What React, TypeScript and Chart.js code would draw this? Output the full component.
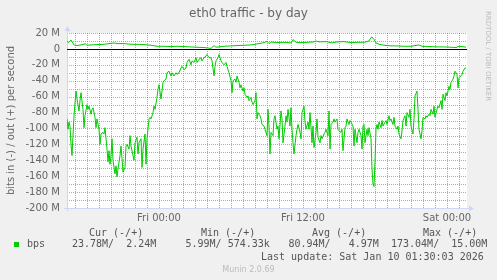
import React, { useEffect, useRef } from 'react';
import { Chart, registerables } from 'chart.js';

Chart.register(...registerables);

// Time base: minutes since Thu 00:00; one RRD slot = 5 minutes
const START_MIN = 980; // Thu 16:20
const SLOT_MIN = 5;
const SLOT_COUNT = 400;

// bits in (plotted negative), Mbit/s
const inSlots = [
  0, 1, 2, 3, 4, 5, 7, 9, 10, 12, 13, 14, 16, 17, 18, 20, 21, 22, 24, 25, 26, 28, 29, 30, 32, 33, 34, 36, 37, 38,
  40, 41, 42, 43, 44, 45, 46, 48, 49, 50, 51, 53, 54, 55, 56, 58, 59, 60, 62, 63, 64, 66, 67, 68, 70, 71, 72, 74, 75, 76,
  78, 79, 80, 82, 83, 84, 86, 87, 88, 90, 91, 92, 94, 95, 96,
  97, 99, 100, 102, 104, 105, 107, 109, 110, 112, 114, 115, 117, 119, 120, 122, 124, 125, 127, 129, 130, 132, 134, 135, 137,
  139, 140, 142, 144, 145, 147, 148, 149, 151, 152, 154, 155, 157, 159, 160, 162, 164, 165, 166, 168, 169, 170, 172, 173, 174,
  176, 177, 178, 180, 181, 182, 184, 185, 186, 188, 189, 190, 191, 193, 194, 195,
  197, 198, 200, 201, 202, 203, 204, 206, 207, 208, 210, 211, 212, 214, 215, 216, 218, 219, 220, 221, 223, 224, 225, 226, 227,
  229, 230, 231, 233, 234, 235, 237, 238, 239, 241, 242, 243, 245, 246, 247, 249, 250, 251, 253, 254, 255, 257, 258, 259, 261,
  262, 263, 264, 266, 267, 268, 270, 271, 272, 274, 275, 276, 278, 279, 280, 282, 283, 284, 286, 287, 288, 290, 291, 292, 294,
  295, 296,
  297, 298, 300, 301, 302, 304, 305, 306, 307, 308, 309, 310, 311, 312, 314, 315, 316, 318, 319, 320, 322, 323, 324, 326, 327,
  328, 330, 331, 332, 334, 335, 336, 338, 339, 340, 342, 343, 344, 346, 347, 348, 350, 351, 352, 354, 355, 356, 358, 359, 360,
  362, 363, 364, 366, 367, 368, 370, 371, 372, 374, 375, 376, 378, 379, 380, 382, 383, 384, 386, 387, 388, 390, 391, 392, 394,
  395, 396, 398, 399,
];
const inMbps = [
  88, 101, 92, 97, 120, 134, 84, 53, 63, 78, 65, 55, 76, 99, 84, 70, 76, 72, 82, 76, 74, 86, 99, 88, 101, 120, 107, 105, 107, 99,
  126, 142, 128, 145, 134, 113, 140, 157, 147, 161, 151, 134, 122, 138, 155, 149, 122, 120, 126, 109, 122, 134, 140, 118, 111, 132, 118, 113, 149, 126,
  107, 145, 113, 88, 86, 88, 80, 72, 76, 61, 51, 45, 63, 53, 42,
  40, 38, 30, 28, 34, 30, 34, 30, 32, 30, 24, 22, 26, 24, 17, 13, 20, 15, 17, 11, 17, 13, 11, 15, 11,
  9, 7, 11, 11, 15, 34, 22, 15, 11, 7, 15, 17, 20, 17, 22, 30, 40, 55, 40, 38, 42, 34, 42, 49, 45,
  53, 49, 57, 61, 59, 65, 61, 67, 70, 65, 55, 88, 80, 84, 88, 95,
  97, 101, 109, 76, 97, 132, 105, 109, 88, 84, 101, 97, 113, 78, 88, 118, 97, 84, 92, 76, 97, 74, 101, 118, 132,
  109, 101, 95, 105, 113, 80, 72, 92, 101, 92, 101, 80, 118, 97, 124, 105, 88, 111, 118, 109, 113, 107, 105, 101, 109,
  78, 126, 95, 92, 88, 92, 88, 101, 103, 105, 101, 128, 99, 97, 88, 95, 90, 92, 97, 122, 101, 118, 105, 101, 109,
  126, 97,
  95, 118, 101, 109, 99, 113, 151, 170, 173, 142, 101, 95, 101, 92, 99, 90, 97, 92, 90, 95, 84, 90, 88, 95, 86,
  97, 101, 97, 107, 113, 103, 90, 84, 97, 80, 86, 76, 97, 107, 88, 59, 53, 76, 101, 113, 103, 86, 88, 84, 86,
  82, 84, 76, 82, 72, 86, 76, 72, 74, 65, 76, 57, 65, 55, 59, 47, 51, 42, 38, 34, 28, 32, 49, 36, 34,
  32, 28, 24, 24,
];

// bits out (plotted positive), Mbit/s
const outSlots = [
  0, 2, 4, 5, 7, 10, 14, 17, 18, 20, 24, 30, 37, 44, 47, 50, 57, 64, 70, 77, 84, 90, 97, 104, 110, 117, 124, 130, 137, 144,
  147, 149, 154, 157, 164, 170, 177, 184, 190, 197, 200, 202, 204, 210, 217, 224, 226, 229, 234, 240, 247, 249, 252, 260, 264,
  270, 277, 284, 290, 297, 302, 304, 305, 307, 309, 312, 317, 324, 330, 337, 344, 352, 355, 364, 370, 377, 384, 389, 392, 395, 399,
];
const outMbps = [
  9.2, 8.3, 11.2, 9.2, 5.0, 4.2, 5.0, 5.8, 6.7, 4.6, 5.0, 5.4, 5.8, 7.0, 7.5, 6.7, 6.7, 5.8, 5.8, 5.4, 4.6, 3.3, 3.3, 2.9, 3.3, 2.9, 2.5, 2.1, 1.7, 0.6,
  4.2, 2.1, 2.9, 3.3, 3.8, 4.2, 4.6, 5.0, 6.3, 7.9, 9.6, 6.7, 8.8, 7.9, 8.3, 7.5, 11.7, 8.3, 7.9, 8.3, 8.8, 10.0, 8.8, 9.2, 7.5,
  8.8, 9.2, 7.9, 8.3, 8.3, 10.0, 14.2, 15.0, 12.1, 7.5, 5.8, 4.6, 3.8, 3.8, 3.3, 3.3, 5.0, 3.3, 2.9, 2.5, 2.5, 2.1, 1.7, 3.3, 2.9, 2.2,
];

const xTickMinutes = [1440, 2160, 2880];
const xTickLabels = ['Fri 00:00', 'Fri 12:00', 'Sat 00:00'];
const yTickValues = [20, 0, -20, -40, -60, -80, -100, -120, -140, -160, -180, -200];

const titleText = 'eth0 traffic - by day';
const yTitleText = 'bits in (-) / out (+) per second';
const watermarkText = 'RRDTOOL / TOBI OETIKER';
const seriesName = 'bps';
const legendHeaders = ['Cur (-/+)', 'Min (-/+)', 'Avg (-/+)', 'Max (-/+)'];
const legendValues = ['23.78M/  2.24M', '5.99M/ 574.33k', '80.94M/   4.97M', '173.04M/  15.00M'];
const lastUpdateText = 'Last update: Sat Jan 10 01:30:03 2026';
const footerText = 'Munin 2.0.69';

const LINE_COLOR = '#00CC00';
const SANS = '"DejaVu Sans", sans-serif';
const MONO = '"DejaVu Sans Mono", monospace';

const muninPlugin = {
  id: 'muninDecor',
  beforeDraw(chart: any) {
    const { ctx, chartArea } = chart;
    ctx.save();
    ctx.fillStyle = '#F0F0F0';
    ctx.fillRect(0, 0, chart.width, chart.height);
    ctx.fillStyle = '#FFFFFF';
    ctx.fillRect(chartArea.left, chartArea.top, chartArea.right - chartArea.left, chartArea.bottom - chartArea.top);
    ctx.restore();
  },
  beforeDatasetsDraw(chart: any) {
    const { ctx, chartArea, scales } = chart;
    const { left, right, top, bottom } = chartArea;
    const x = scales.x;
    const y = scales.y;
    ctx.save();
    ctx.lineWidth = 1;
    ctx.setLineDash([1, 1]);
    const minorC = 'rgba(143,143,143,0.75)';
    const majorC = 'rgba(222,79,79,0.6)';
    // vertical hour grid
    const passes = [false, true];
    for (const major of passes) {
      for (let m = Math.ceil(x.min / 60) * 60; m <= x.max; m += 60) {
        const isMajor = m % 360 === 0;
        if (isMajor !== major) continue;
        const px = Math.round(x.getPixelForValue(m)) + 0.5;
        if (px <= left + 1) continue;
        ctx.strokeStyle = isMajor ? majorC : minorC;
        ctx.beginPath();
        ctx.moveTo(px, bottom);
        ctx.lineTo(px, top);
        ctx.stroke();
      }
      for (let v = -190; v <= 20; v += 10) {
        const isMajor = v % 20 === 0;
        if (isMajor !== major || v === 0) continue;
        const py = Math.round(y.getPixelForValue(v)) + 0.5;
        ctx.strokeStyle = isMajor ? majorC : minorC;
        ctx.beginPath();
        ctx.moveTo(left, py);
        ctx.lineTo(right, py);
        ctx.stroke();
      }
    }
    ctx.setLineDash([]);
    // axes
    const axisC = '#CFD6F8';
    ctx.strokeStyle = axisC;
    ctx.fillStyle = axisC;
    const ax = Math.round(left) + 0.5;
    const ay = Math.round(bottom) + 0.5;
    ctx.beginPath();
    ctx.moveTo(ax, ay + 3);
    ctx.lineTo(ax, top - 3);
    ctx.moveTo(left - 3, ay);
    ctx.lineTo(right + 3, ay);
    ctx.stroke();
    ctx.beginPath();
    ctx.moveTo(ax - 3, top - 2);
    ctx.lineTo(ax + 3, top - 2);
    ctx.lineTo(ax, top - 7);
    ctx.closePath();
    ctx.fill();
    ctx.beginPath();
    ctx.moveTo(right + 2, ay - 3);
    ctx.lineTo(right + 2, ay + 3);
    ctx.lineTo(right + 7, ay);
    ctx.closePath();
    ctx.fill();
    // zero line
    const z = Math.round(y.getPixelForValue(0)) + 0.5;
    ctx.strokeStyle = '#000000';
    ctx.beginPath();
    ctx.moveTo(left, z);
    ctx.lineTo(right, z);
    ctx.stroke();
    ctx.restore();
  },
  afterDraw(chart: any) {
    const { ctx } = chart;
    ctx.save();
    ctx.textBaseline = 'middle';
    // title
    ctx.fillStyle = '#666666';
    ctx.font = `12px ${SANS}`;
    ctx.textAlign = 'center';
    ctx.fillText(titleText, 248.5, 14);
    // y title
    ctx.save();
    ctx.translate(11, 120.5);
    ctx.rotate(-Math.PI / 2);
    ctx.font = `10px ${SANS}`;
    ctx.fillText(yTitleText, 0, 0);
    ctx.restore();
    // watermark
    ctx.save();
    ctx.translate(488, 56);
    ctx.rotate(Math.PI / 2);
    ctx.font = `7px ${SANS}`;
    ctx.fillStyle = '#BBBBBB';
    ctx.fillText(watermarkText, 0, 0);
    ctx.restore();
    // legend
    ctx.textAlign = 'left';
    ctx.font = `10px ${MONO}`;
    ctx.fillStyle = '#555555';
    const headerX = [89, 201, 312, 423];
    legendHeaders.forEach((h, i) => ctx.fillText(h, headerX[i], 233));
    const valueX = [72, 185.5, 288.5, 391];
    legendValues.forEach((v, i) => ctx.fillText(v, valueX[i], 244.5));
    ctx.fillText(seriesName, 27, 244.5);
    ctx.fillText(lastUpdateText, 261, 257);
    ctx.fillStyle = LINE_COLOR;
    ctx.fillRect(14, 242, 5, 5);
    // footer
    ctx.textAlign = 'center';
    ctx.font = `8px ${SANS}`;
    ctx.fillStyle = '#BBBBBB';
    ctx.fillText(footerText, 248.5, 269.5);
    ctx.restore();
  },
};

export default function App() {
  const canvasRef = useRef<HTMLCanvasElement | null>(null);

  useEffect(() => {
    document.body.style.margin = '0';
    document.body.style.background = '#F0F0F0';
    const canvas = canvasRef.current;
    if (!canvas) return;
    const inData = inSlots.map((s, i) => ({ x: START_MIN + s * SLOT_MIN, y: -inMbps[i] }));
    const outData = outSlots.map((s, i) => ({ x: START_MIN + s * SLOT_MIN, y: outMbps[i] }));
    const chart = new Chart(canvas, {
      type: 'line',
      data: {
        datasets: [
          { label: 'in', data: inData, borderColor: LINE_COLOR, borderWidth: 1, pointRadius: 0, tension: 0, fill: false },
          { label: 'out', data: outData, borderColor: LINE_COLOR, borderWidth: 1, pointRadius: 0, tension: 0, fill: false },
        ],
      },
      options: {
        responsive: false,
        animation: false,
        events: [],
        layout: { padding: { top: 33, left: 0, right: 30, bottom: 52 } },
        plugins: { legend: { display: false }, tooltip: { enabled: false }, title: { display: false } },
        scales: {
          x: {
            type: 'linear',
            min: START_MIN,
            max: START_MIN + SLOT_COUNT * SLOT_MIN,
            grid: { display: false, drawTicks: false },
            border: { display: false },
            afterFit: (scale: any) => { scale.height = 20; },
            afterBuildTicks: (scale: any) => { scale.ticks = xTickMinutes.map((v) => ({ value: v })); },
            ticks: {
              autoSkip: false,
              maxRotation: 0,
              padding: 4,
              color: '#666666',
              font: { family: 'DejaVu Sans', size: 10 },
              callback: (v: any) => {
                const i = xTickMinutes.indexOf(Number(v));
                return i >= 0 ? xTickLabels[i] : '';
              },
            },
          },
          y: {
            type: 'linear',
            min: -200,
            max: 20,
            grid: { display: false, drawTicks: false },
            border: { display: false },
            afterFit: (scale: any) => { scale.width = 67; },
            afterBuildTicks: (scale: any) => { scale.ticks = yTickValues.map((v) => ({ value: v })); },
            ticks: {
              autoSkip: false,
              padding: 7,
              color: '#666666',
              font: { family: 'DejaVu Sans', size: 10 },
              callback: (v: any) => (Number(v) === 0 ? '0' : `${v} M`),
            },
          },
        },
      },
      plugins: [muninPlugin],
    });
    return () => chart.destroy();
  }, []);

  return (
    <div style={{ width: 497, height: 280, background: '#F0F0F0' }}>
      <canvas ref={canvasRef} width={497} height={280} style={{ display: 'block', width: 497, height: 280 }} />
    </div>
  );
}
